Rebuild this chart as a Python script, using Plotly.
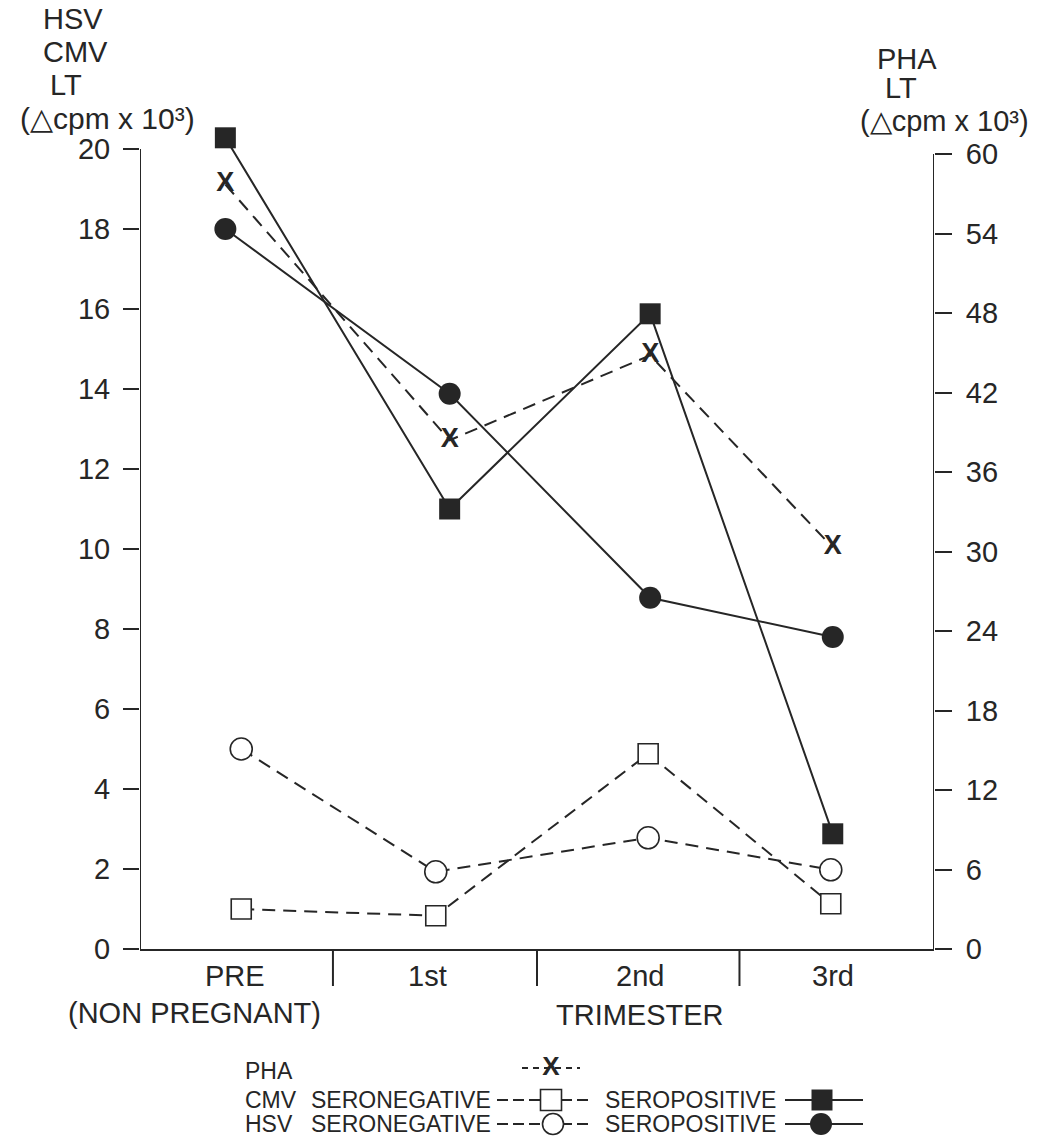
import plotly.graph_objects as go

W, H = 1047, 1139
INK = "#262626"
FONT = "Liberation Sans, Arial, Helvetica, sans-serif"

# ---------------- data ----------------
categories = ["PRE", "1st", "2nd", "3rd"]
cat_label_x = [0.48, 1.45, 2.52, 3.49]          # category label centres (x units)
divider_x = [0.972, 2.0, 3.02]                  # category boundaries

left_ticks = [0, 2, 4, 6, 8, 10, 12, 14, 16, 18, 20]
right_ticks = [0, 6, 12, 18, 24, 30, 36, 42, 48, 54, 60]

# x positions of the plotted points per series (slightly staggered in the original)
x_pos_a = [0.43, 1.56, 2.57, 3.49]
x_pos_b = [0.51, 1.49, 2.56, 3.48]

pha_lt = [57.7, 38.4, 44.8, 30.3]        # right axis
cmv_pos = [20.28, 11.0, 15.88, 2.88]     # left axis
hsv_pos = [18.0, 13.88, 8.78, 7.8]
hsv_neg = [5.0, 1.93, 2.78, 1.98]
cmv_neg = [1.0, 0.83, 4.88, 1.13]

def px(p):
    return p / W

def py(p):
    return 1 - p / H

fig = go.Figure()

dash = "13px,8px"
nolegend = dict(showlegend=False, hoverinfo="skip", cliponaxis=False)

fig.add_trace(go.Scatter(x=x_pos_b, y=cmv_neg, mode="lines+markers",
                         line=dict(color=INK, width=2, dash=dash),
                         marker=dict(symbol="square", size=20, color="white",
                                     line=dict(color=INK, width=1.6)),
                         name="CMV seronegative", **nolegend))
fig.add_trace(go.Scatter(x=x_pos_b, y=hsv_neg, mode="lines+markers",
                         line=dict(color=INK, width=2, dash=dash),
                         marker=dict(symbol="circle", size=22, color="white",
                                     line=dict(color=INK, width=1.6)),
                         name="HSV seronegative", **nolegend))
fig.add_trace(go.Scatter(x=x_pos_a, y=hsv_pos, mode="lines+markers",
                         line=dict(color=INK, width=2),
                         marker=dict(symbol="circle", size=22, color=INK),
                         name="HSV seropositive", **nolegend))
fig.add_trace(go.Scatter(x=x_pos_a, y=cmv_pos, mode="lines+markers",
                         line=dict(color=INK, width=2),
                         marker=dict(symbol="square", size=21, color=INK),
                         name="CMV seropositive", **nolegend))
fig.add_trace(go.Scatter(x=x_pos_a, y=pha_lt, yaxis="y2", mode="lines+text",
                         text=["<b>X</b>"] * len(pha_lt), textposition="middle center",
                         textfont=dict(family=FONT, size=27, color=INK),
                         line=dict(color=INK, width=2, dash=dash),
                         name="PHA", **nolegend))

# ---------------- legend samples (drawn on a page-sized overlay axis) ----------------
leg_axis = dict(xaxis="x3", yaxis="y3", cliponaxis=False, showlegend=False, hoverinfo="skip")
fig.add_trace(go.Scatter(x=[522, 580], y=[1068, 1068], mode="lines",
                         line=dict(color=INK, width=2, dash="6px,5px"), **leg_axis))
fig.add_trace(go.Scatter(x=[551], y=[1068], mode="text", text=["<b>X</b>"],
                         textfont=dict(family=FONT, size=26, color=INK), **leg_axis))
fig.add_trace(go.Scatter(x=[497, 593], y=[1100, 1100], mode="lines",
                         line=dict(color=INK, width=2, dash="11px,5px"), **leg_axis))
fig.add_trace(go.Scatter(x=[551], y=[1100], mode="markers",
                         marker=dict(symbol="square", size=21, color="white",
                                     line=dict(color=INK, width=1.6)), **leg_axis))
fig.add_trace(go.Scatter(x=[497, 593], y=[1124, 1124], mode="lines",
                         line=dict(color=INK, width=2, dash="11px,5px"), **leg_axis))
fig.add_trace(go.Scatter(x=[553], y=[1124], mode="markers",
                         marker=dict(symbol="circle", size=21, color="white",
                                     line=dict(color=INK, width=1.6)), **leg_axis))
fig.add_trace(go.Scatter(x=[785, 863], y=[1100, 1100], mode="lines",
                         line=dict(color=INK, width=2), **leg_axis))
fig.add_trace(go.Scatter(x=[822], y=[1100], mode="markers",
                         marker=dict(symbol="square", size=21, color=INK), **leg_axis))
fig.add_trace(go.Scatter(x=[785, 863], y=[1124, 1124], mode="lines",
                         line=dict(color=INK, width=2), **leg_axis))
fig.add_trace(go.Scatter(x=[821], y=[1124], mode="markers",
                         marker=dict(symbol="circle", size=22, color=INK), **leg_axis))

# plot area: x 140..934 px, y value 0 at 949 px, 40 px per left unit
LEFT_TOP = 20.6
RIGHT_TOP = LEFT_TOP * 40 / 13.25
y_bot = py(949)
y_top = py(949 - LEFT_TOP * 40)

fig.update_layout(
    template="none",
    width=W, height=H, autosize=False,
    margin=dict(l=0, r=0, t=0, b=0, pad=0),
    paper_bgcolor="white", plot_bgcolor="rgba(0,0,0,0)",
    font=dict(family=FONT, color=INK, size=29),
    showlegend=False,
    xaxis=dict(domain=[px(140), px(934)], range=[0, 4], showline=True, linecolor=INK,
               linewidth=2, showticklabels=False, ticks="", showgrid=False, zeroline=False,
               fixedrange=True, automargin=False),
    yaxis=dict(domain=[y_bot, y_top], range=[0, LEFT_TOP], tickvals=left_ticks,
               ticks="outside", ticklen=16, tickwidth=2, tickcolor=INK, showline=False,
               showgrid=False, zeroline=False, ticklabelstandoff=7,
               tickfont=dict(size=29, color=INK), fixedrange=True, automargin=False),
    yaxis2=dict(overlaying="y", side="right", anchor="x", range=[0, RIGHT_TOP],
                tickvals=right_ticks, ticks="outside", ticklen=17, tickwidth=2,
                tickcolor=INK, showline=False, showgrid=False, zeroline=False,
                ticklabelstandoff=8, tickfont=dict(size=29, color=INK), fixedrange=True,
                automargin=False),
    xaxis3=dict(domain=[0, 1], range=[0, W], anchor="y3", visible=False, fixedrange=True,
                automargin=False),
    yaxis3=dict(domain=[0, 1], range=[H, 0], anchor="x3", visible=False, fixedrange=True,
                automargin=False),
)

# left and right axis lines
fig.add_shape(type="line", xref="x", yref="y", x0=0, x1=0, y0=0, y1=20,
              line=dict(color=INK, width=2))
fig.add_shape(type="line", xref="x", yref="y2", x0=4, x1=4, y0=0, y1=60,
              line=dict(color=INK, width=2))
# category dividers
for d in divider_x:
    fig.add_shape(type="line", xref="x", yref="paper", x0=d, x1=d,
                  y0=y_bot, y1=py(986), line=dict(color=INK, width=2))

def ann(text, x, y, xref="paper", size=29, xanchor="center"):
    fig.add_annotation(text=text, x=x, y=y, xref=xref, yref="paper", showarrow=False,
                       xanchor=xanchor, yanchor="middle",
                       font=dict(family=FONT, size=size, color=INK))

# category labels
for lab, cx in zip(categories, cat_label_x):
    ann(lab, cx, py(976), xref="x")
ann("(NON PREGNANT)", px(194), py(1013))
ann("TRIMESTER", px(640), py(1015))

# axis titles
ann("HSV", px(73), py(19))
ann("CMV", px(75), py(52))
ann("LT", px(66), py(85))
ann("(△cpm x 10³)", px(107), py(118), size=30)
ann("PHA", px(907), py(59))
ann("LT", px(901), py(88))
ann("(△cpm x 10³)", px(944), py(121), size=29)

# legend texts
ann("PHA", px(243), py(1071), size=23, xanchor="left")
ann("CMV", px(243), py(1100), size=23, xanchor="left")
ann("HSV", px(243), py(1124), size=23, xanchor="left")
ann("SERONEGATIVE", px(309), py(1100), size=23, xanchor="left")
ann("SERONEGATIVE", px(309), py(1124), size=23, xanchor="left")
ann("SEROPOSITIVE", px(603), py(1100), size=23, xanchor="left")
ann("SEROPOSITIVE", px(603), py(1124), size=23, xanchor="left")

fig.write_html("out.html",
               config={"displayModeBar": False, "staticPlot": True},
               post_script="document.body.style.margin='0px';"
                           "document.body.style.overflow='hidden';")
